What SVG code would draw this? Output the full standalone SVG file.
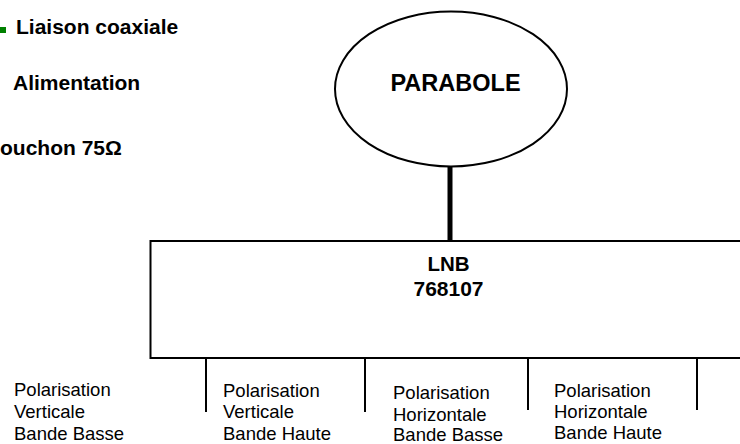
<svg xmlns="http://www.w3.org/2000/svg" width="740" height="444" viewBox="0 0 740 444">
  <style>
    .legend { font-family: "Liberation Sans", Arial, sans-serif; font-size: 21px; font-weight: bold; fill: #000; }
    .title { font-family: "Liberation Sans", Arial, sans-serif; font-weight: bold; fill: #000; text-anchor: middle; }
    .port { font-family: "Liberation Sans", Arial, sans-serif; font-size: 18.5px; fill: #000; }
    .shape { fill: #fff; stroke: #000; stroke-width: 2; }
    .stub { stroke: #000; stroke-width: 2; fill: none; }
  </style>
  <rect width="740" height="444" fill="#fff"/>

  <!-- legend -->
  <g id="legend">
    <rect x="0" y="27" width="6" height="6" fill="#008000"/>
    <text class="legend" x="16" y="34">Liaison coaxiale</text>
    <text class="legend" x="13" y="90">Alimentation</text>
    <text class="legend" x="0" y="155">ouchon 75Ω</text>
  </g>

  <!-- connectors -->
  <g id="connectors">
    <line x1="450" y1="167" x2="450" y2="241" stroke="#000" stroke-width="5"/>
    <line class="stub" x1="206" y1="358" x2="206" y2="412"/>
    <line class="stub" x1="365" y1="358" x2="365" y2="412"/>
    <line class="stub" x1="528" y1="358" x2="528" y2="410"/>
    <line class="stub" x1="697" y1="358" x2="697" y2="410"/>
  </g>

  <!-- dish -->
  <g id="parabole">
    <ellipse class="shape" cx="451" cy="89" rx="116" ry="77.5" stroke-width="1.5"/>
    <text class="title" x="455.5" y="91" font-size="23.5">PARABOLE</text>
  </g>

  <!-- LNB block -->
  <g id="lnb">
    <rect class="shape" x="150.5" y="241" width="620" height="117"/>
    <text class="title" x="448.5" y="271" font-size="20.5">LNB</text>
    <text class="title" x="448.5" y="296" font-size="21">768107</text>
  </g>

  <!-- outputs -->
  <g id="out-vbb">
    <text class="port" x="14" y="396">Polarisation</text>
    <text class="port" x="14" y="418">Verticale</text>
    <text class="port" x="14" y="440">Bande Basse</text>
  </g>
  <g id="out-vbh">
    <text class="port" x="223" y="397">Polarisation</text>
    <text class="port" x="223" y="418">Verticale</text>
    <text class="port" x="223" y="440">Bande Haute</text>
  </g>
  <g id="out-hbb">
    <text class="port" x="393" y="399">Polarisation</text>
    <text class="port" x="393" y="421">Horizontale</text>
    <text class="port" x="393" y="441">Bande Basse</text>
  </g>
  <g id="out-hbh">
    <text class="port" x="554" y="397">Polarisation</text>
    <text class="port" x="554" y="418">Horizontale</text>
    <text class="port" x="554" y="439">Bande Haute</text>
  </g>
</svg>
